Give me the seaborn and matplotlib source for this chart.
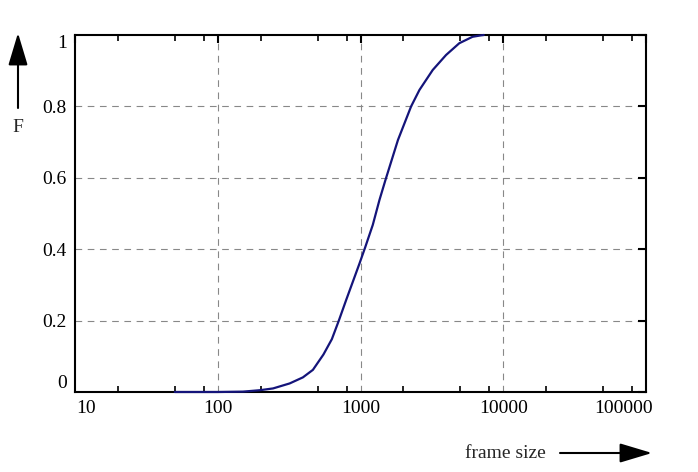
import matplotlib
matplotlib.use("Agg")
import matplotlib.pyplot as plt
import matplotlib.transforms as mtransforms
import numpy as np
import pandas as pd
import seaborn as sns

# ---- data ----
frame_size = [50, 100, 150, 197, 244, 319, 395, 464, 550, 630, 705, 794, 884,
              984, 1078, 1219, 1358, 1496, 1830, 2262, 2587, 3206, 3975, 4922,
              6095, 6980, 7300]
cdf = [0.0, 0.0, 0.001, 0.005, 0.010, 0.024, 0.041, 0.062, 0.105, 0.148, 0.200,
       0.258, 0.309, 0.360, 0.405, 0.468, 0.538, 0.594, 0.706, 0.800, 0.846,
       0.902, 0.944, 0.977, 0.995, 0.999, 1.0]
x_ticks = [10, 100, 1000, 10000, 100000]
x_tick_labels = ["10", "100", "1000", "10000", "100000"]
y_ticks = [0, 0.2, 0.4, 0.6, 0.8, 1]
y_tick_labels = ["0", "0.2", "0.4", "0.6", "0.8", "1"]
x_label = "frame size"
y_label = "F"

sns.set_theme(style="white")
plt.rcParams["font.family"] = ["Liberation Serif", "DejaVu Serif"]
plt.rcParams["font.size"] = 14

fig = plt.figure(figsize=(6.98, 4.72), dpi=100)
ax = fig.add_axes([75 / 698, 80 / 472, 571 / 698, 357 / 472])
ax.set_xscale("log")

df = pd.DataFrame({"frame size": frame_size, "F": cdf})
sns.lineplot(data=df, x="frame size", y="F", ax=ax, color="#14147a",
             linewidth=1.6, estimator=None)
for ln in ax.get_lines():
    ln.set_clip_on(False)
    ln.set_zorder(5)
    ln.set_solid_joinstyle("round")

ax.set_xlim(10, 100000)
ax.set_ylim(0, 1)
ax.set_xlabel("")
ax.set_ylabel("")

ax.set_xticks(x_ticks)
ax.set_xticklabels(x_tick_labels)
minor = [m * 10 ** e for e in range(1, 5) for m in (2, 5, 8)]
ax.set_xticks(minor, minor=True)
ax.set_yticks(y_ticks)
ax.set_yticklabels(y_tick_labels)

for s in ax.spines.values():
    s.set_linewidth(1.5)
    s.set_color("black")
    s.set_visible(True)

ax.tick_params(axis="both", which="major", direction="in", length=6, width=1.5,
               colors="black", labelsize=14, top=True, right=True, pad=6)
ax.tick_params(axis="x", which="minor", direction="in", length=4, width=1.2,
               colors="black", top=True, bottom=True)
ax.tick_params(axis="y", which="minor", left=False, right=False)

# gridlines only at interior major ticks
for xv in x_ticks[1:-1]:
    ax.axvline(xv, color="#888888", linewidth=0.8, linestyle=(0, (6, 5)), zorder=0)
for yv in y_ticks[1:-1]:
    ax.axhline(yv, color="#888888", linewidth=0.8, linestyle=(0, (6, 5)), zorder=0)
ax.grid(False)

# gnuplot-like edge label placement
xl = ax.get_xticklabels()
xl[0].set_ha("left")
xl[-1].set_ha("right")
xl[-1].set_transform(xl[-1].get_transform() +
                     mtransforms.ScaledTranslation(7 / 100, 0, fig.dpi_scale_trans))
xl[0].set_transform(xl[0].get_transform() +
                    mtransforms.ScaledTranslation(1 / 100, 0, fig.dpi_scale_trans))
yl = ax.get_yticklabels()
yl[0].set_va("bottom")
yl[-1].set_va("top")

# axis labels with arrows
ax.annotate("", xy=(18 / 698, 1 - 33 / 472), xytext=(18 / 698, 1 - 108 / 472),
            xycoords="figure fraction", textcoords="figure fraction",
            arrowprops=dict(arrowstyle="-|>,head_length=1.0,head_width=0.3",
                            mutation_scale=20, color="black", lw=1.5,
                            shrinkA=0, shrinkB=0),
            annotation_clip=False)
fig.text(18 / 698, 1 - 128 / 472, y_label, ha="center", va="center", fontsize=14)

ax.annotate("", xy=(652 / 698, 1 - 453 / 472), xytext=(560 / 698, 1 - 453 / 472),
            xycoords="figure fraction", textcoords="figure fraction",
            arrowprops=dict(arrowstyle="-|>,head_length=1.0,head_width=0.3",
                            mutation_scale=20, color="black", lw=1.5,
                            shrinkA=0, shrinkB=0),
            annotation_clip=False)
fig.text(505 / 698, 1 - 453 / 472, x_label, ha="center", va="center", fontsize=14)

fig.savefig("out.png", dpi=100, facecolor="white")
